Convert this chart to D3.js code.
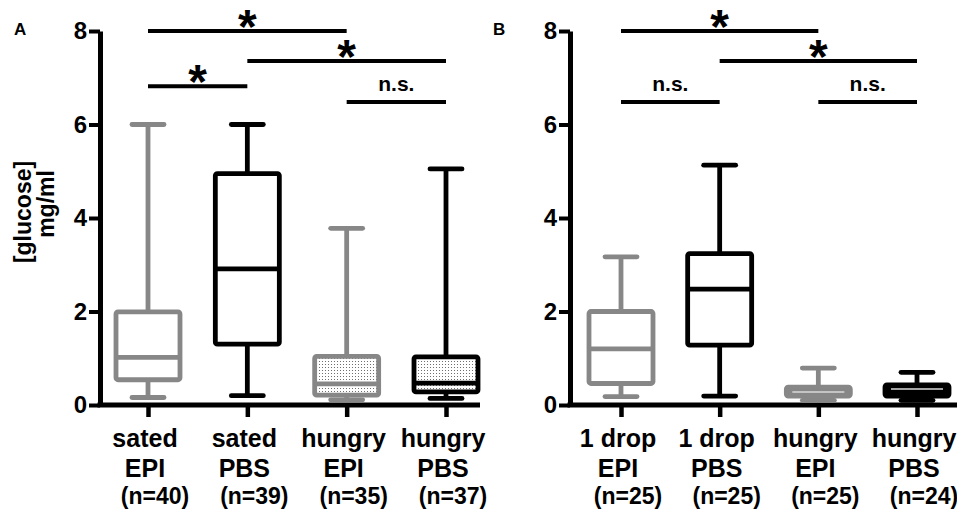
<!DOCTYPE html>
<html><head><meta charset="utf-8">
<script src="https://cdn.jsdelivr.net/npm/d3@7"></script>
<style>
body{margin:0;background:#fff}
svg{display:block}
text{font-family:"Liberation Sans",Arial,Helvetica,sans-serif;font-weight:bold;fill:#000}
</style>
</head><body>
<svg id="c" width="957" height="514"></svg>
<script>
// ---------- data ----------
const yTicks = [0, 2, 4, 6, 8];

// Panel A
const labelTopA = ["sated", "sated", "hungry", "hungry"];
const labelBotA = ["EPI", "PBS", "EPI", "PBS"];
const countsA   = [40, 39, 35, 37];
const minA = [0.16, 0.20, 0.11, 0.14];
const q1A  = [0.54, 1.30, 0.21, 0.28];
const medA = [1.02, 2.91, 0.45, 0.47];
const q3A  = [1.99, 4.95, 1.04, 1.03];
const maxA = [6.00, 6.00, 3.78, 5.05];
const sigFromA  = [0, 1, 0, 2];
const sigToA    = [2, 3, 1, 3];
const sigTextA  = ["*", "*", "*", "n.s."];
const sigLevelA = [8.0, 7.36, 6.82, 6.48];

// Panel B
const labelTopB = ["1 drop", "1 drop", "hungry", "hungry"];
const labelBotB = ["EPI", "PBS", "EPI", "PBS"];
const countsB   = [25, 25, 25, 24];
const minB = [0.18, 0.19, 0.10, 0.10];
const q1B  = [0.46, 1.28, 0.19, 0.19];
const medB = [1.20, 2.48, 0.28, 0.34];
const q3B  = [2.00, 3.24, 0.38, 0.43];
const maxB = [3.17, 5.13, 0.79, 0.70];
const sigFromB  = [0, 1, 0, 2];
const sigToB    = [2, 3, 1, 3];
const sigTextB  = ["*", "*", "n.s.", "n.s."];
const sigLevelB = [8.0, 7.36, 6.48, 6.48];

// ---------- drawing ----------
const GREY = "#878787";
const svg = d3.select("#c");

const defs = svg.append("defs");
const pat = defs.append("pattern").attr("id", "dots")
  .attr("width", 3).attr("height", 3).attr("patternUnits", "userSpaceOnUse");
pat.append("rect").attr("width", 3).attr("height", 3).attr("fill", "#fff");
pat.append("circle").attr("cx", 1.5).attr("cy", 1.5).attr("r", 0.55).attr("fill", "#555");

const y = d3.scaleLinear().domain([0, 8]).range([405, 31]);

function panel(cfg) {
  const g = svg.append("g");
  const idx = d3.range(cfg.top.length);
  const x = d3.scalePoint().domain(idx).range(cfg.range);

  // y axis
  const ya = g.append("g").attr("transform", `translate(${cfg.axisX},0)`)
    .call(d3.axisLeft(y).tickValues(yTicks).tickSize(11).tickSizeOuter(0).tickPadding(2));
  ya.select(".domain").attr("stroke", "#000").attr("stroke-width", 5);
  ya.selectAll(".tick line").attr("stroke", "#000").attr("stroke-width", 4);
  ya.selectAll(".tick text").attr("font-size", 24)
    .attr("font-family", "Liberation Sans, Arial, sans-serif").attr("font-weight", "bold");

  // x axis line + ticks
  g.append("line").attr("x1", cfg.axisX - 2.5).attr("x2", cfg.axisEnd)
    .attr("y1", y(0)).attr("y2", y(0)).attr("stroke", "#000").attr("stroke-width", 5);
  const xa = g.append("g").attr("transform", `translate(0,${y(0)})`)
    .call(d3.axisBottom(x).tickSize(12).tickSizeOuter(0).tickFormat(""));
  xa.select(".domain").remove();
  xa.selectAll(".tick line").attr("stroke", "#000").attr("stroke-width", 4.5);

  const half = 32, cap = 16, sw = 4.8;
  idx.forEach(i => {
    const c = x(i), col = cfg.colors[i], mode = cfg.fills[i];
    const bg = g.append("g").attr("stroke", col).attr("stroke-width", sw).attr("fill", "none");
    // whiskers
    bg.append("line").attr("x1", c).attr("x2", c).attr("y1", y(cfg.q3[i])).attr("y2", y(cfg.max[i]));
    bg.append("line").attr("x1", c).attr("x2", c).attr("y1", y(cfg.q1[i])).attr("y2", y(cfg.min[i]));
    // caps
    [cfg.min[i], cfg.max[i]].forEach(v => {
      bg.append("line").attr("x1", c - cap).attr("x2", c + cap)
        .attr("y1", y(v)).attr("y2", y(v)).attr("stroke-linecap", "round");
    });
    // box
    const fill = mode === "dots" ? "url(#dots)" : (mode === "solid" ? col : "#fff");
    bg.append("rect").attr("x", c - half).attr("width", 2 * half)
      .attr("y", y(cfg.q3[i])).attr("height", y(cfg.q1[i]) - y(cfg.q3[i]))
      .attr("rx", 2).attr("fill", fill).attr("stroke-linejoin", "round");
    // median
    const ml = bg.append("line").attr("x1", c - half).attr("x2", c + half)
      .attr("y1", y(cfg.med[i])).attr("y2", y(cfg.med[i]));
    if (mode === "solid") ml.attr("stroke", "#d8d8d8").attr("stroke-width", 1.5)
      .attr("x1", c - half + 6).attr("x2", c + half - 6);

    // labels
    g.append("text").attr("x", c - 3).attr("y", 447).attr("text-anchor", "middle")
      .attr("font-size", 25).text(cfg.top[i]);
    g.append("text").attr("x", c - 3).attr("y", 477).attr("text-anchor", "middle")
      .attr("font-size", 25).text(cfg.bot[i]);
    g.append("text").attr("x", c + 7).attr("y", 504).attr("text-anchor", "middle")
      .attr("font-size", 23).text(`(n=${cfg.n[i]})`);
  });

  // significance bars
  cfg.sigFrom.forEach((f, k) => {
    const x1 = x(f), x2 = x(cfg.sigTo[k]), yy = y(cfg.sigLevel[k]);
    g.append("line").attr("x1", x1).attr("x2", x2).attr("y1", yy).attr("y2", yy)
      .attr("stroke", "#000").attr("stroke-width", 4);
    const t = cfg.sigText[k];
    if (t === "*") {
      g.append("text").attr("x", (x1 + x2) / 2).attr("y", yy + 12)
        .attr("text-anchor", "middle").attr("font-size", 48).text(t);
    } else {
      g.append("text").attr("x", (x1 + x2) / 2).attr("y", yy - 11)
        .attr("text-anchor", "middle").attr("font-size", 21).text(t);
    }
  });

  // panel letter
  g.append("text").attr("x", cfg.letterX).attr("y", 35).attr("font-size", 17).text(cfg.letter);

  if (cfg.yLabel) {
    g.append("text").attr("transform", "translate(31,212) rotate(-90)")
      .attr("text-anchor", "middle").attr("font-size", 23).text("[glucose]");
    g.append("text").attr("transform", "translate(54,204) rotate(-90)")
      .attr("text-anchor", "middle").attr("font-size", 23).text("mg/ml");
  }
}

panel({
  letter: "A", letterX: 14, axisX: 100, axisEnd: 480, range: [148, 446], yLabel: true,
  top: labelTopA, bot: labelBotA, n: countsA,
  min: minA, q1: q1A, med: medA, q3: q3A, max: maxA,
  sigFrom: sigFromA, sigTo: sigToA, sigText: sigTextA, sigLevel: sigLevelA,
  colors: [GREY, "#000", GREY, "#000"], fills: ["white", "white", "dots", "dots"]
});
panel({
  letter: "B", letterX: 493, axisX: 570, axisEnd: 957, range: [621, 917], yLabel: false,
  top: labelTopB, bot: labelBotB, n: countsB,
  min: minB, q1: q1B, med: medB, q3: q3B, max: maxB,
  sigFrom: sigFromB, sigTo: sigToB, sigText: sigTextB, sigLevel: sigLevelB,
  colors: [GREY, "#000", GREY, "#000"], fills: ["white", "white", "solid", "solid"]
});
</script>
</body></html>
